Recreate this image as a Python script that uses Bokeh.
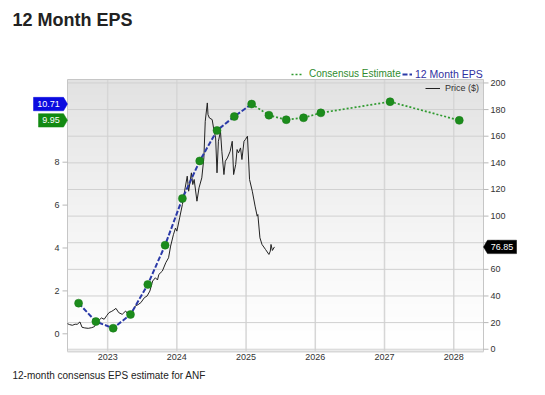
import numpy as np
from bokeh.plotting import figure
from bokeh.models import Range1d, Label, Legend, LegendItem
from bokeh.core.properties import value
from bokeh.embed import file_html
from bokeh.resources import INLINE

# ---------------- data ----------------
eps_dates = [2022.58, 2022.83, 2023.08, 2023.33, 2023.58, 2023.83, 2024.08,
             2024.33, 2024.58, 2024.83, 2025.08]
eps_values = [1.43, 0.57, 0.26, 0.90, 2.30, 4.13, 6.31, 8.06, 9.48, 10.13, 10.71]

est_dates = [2025.33, 2025.58, 2025.83, 2026.08, 2027.08, 2028.08]
est_values = [10.19, 9.98, 10.07, 10.30, 10.82, 9.95]

price_dates = [2022.42, 2022.45, 2022.49, 2022.53, 2022.56, 2022.60, 2022.63, 2022.67,
               2022.72, 2022.77, 2022.81, 2022.84, 2022.88, 2022.91, 2022.95, 2022.99,
               2023.02, 2023.06, 2023.09, 2023.12, 2023.16, 2023.21, 2023.26, 2023.31,
               2023.36, 2023.40, 2023.44, 2023.48, 2023.53, 2023.57, 2023.61, 2023.65,
               2023.69, 2023.72, 2023.74, 2023.79, 2023.84, 2023.88, 2023.91, 2023.95,
               2023.98, 2024.00, 2024.04, 2024.08, 2024.12, 2024.15, 2024.17, 2024.21,
               2024.23, 2024.25, 2024.29, 2024.32, 2024.36, 2024.39, 2024.41, 2024.44,
               2024.45, 2024.47, 2024.51, 2024.53, 2024.56, 2024.58, 2024.60, 2024.63,
               2024.65, 2024.68, 2024.70, 2024.73, 2024.77, 2024.80, 2024.82, 2024.85,
               2024.87, 2024.89, 2024.92, 2024.94, 2024.97, 2024.99, 2025.02, 2025.05,
               2025.09, 2025.13, 2025.16, 2025.17, 2025.20, 2025.23, 2025.28, 2025.33,
               2025.35, 2025.36, 2025.38, 2025.41]
price_values = [19.2, 18.5, 18.0, 18.8, 18.7, 20.5, 16.5, 16.0,
                15.7, 16.2, 17.0, 20.5, 22.0, 23.5, 22.5, 25.5,
                27.5, 28.5, 29.5, 30.7, 27.5, 26.2, 28.7, 25.0,
                28.7, 32.5, 33.5, 35.0, 38.7, 40.0, 43.7, 51.2,
                53.7, 52.0, 56.2, 58.7, 65.0, 68.7, 77.5, 86.0,
                91.0, 88.7, 98.7, 108.7, 121.2, 130.0, 118.7, 132.5,
                123.7, 127.5, 111.2, 121.2, 128.7, 143.7, 171.2, 185.0,
                176.2, 173.7, 172.5, 166.2, 158.7, 132.5, 156.2, 163.7,
                148.7, 131.2, 141.2, 143.7, 148.7, 156.2, 131.2, 138.7,
                150.0, 147.5, 151.2, 142.5, 156.2, 157.5, 160.0, 127.5,
                118.7, 107.5, 100.0, 101.2, 83.7, 78.7, 75.0, 71.2,
                73.7, 78.7, 74.2, 76.85]

year_ticks = [2023, 2024, 2025, 2026, 2027, 2028]
eps_ticks = [0, 2, 4, 6, 8]
price_ticks = [0, 20, 40, 60, 80, 100, 120, 140, 160, 180, 200]

title_text = "12 Month EPS"
footer_text = "12-month consensus EPS estimate for ANF"

# ---------------- style / layout ----------------
FONT = "Liberation Sans"
BLUE_LINE = "#2b3aa8"
GREEN_LINE = "#2f9a2f"
GREEN_DOT = "#1c8c1c"
TXT = "#333333"

W, H = 537, 387
BL, BR, BT, BB = 67, 483, 79, 351          # plot box in canvas pixels

X0, X1 = 2022.42, 2028.43                   # visible data extents of the box
P0, P1 = -1.7, 202.6
E0, E1 = -0.825, 11.855

kx = (BR - BL) / (X1 - X0)
kp = (BB - BT) / (P1 - P0)
ke = (BB - BT) / (E1 - E0)

def px_x(px):      # canvas x pixel -> data x
    return X0 + (px - BL) / kx

p = figure(width=W, height=H,
           x_range=Range1d(X0 - BL / kx, X1 + (W - BR) / kx),
           y_range=Range1d(P0 - (H - BB) / kp, P1 + BT / kp),
           x_axis_location=None, y_axis_location=None,
           output_backend="svg", toolbar_location=None,
           min_border=0)
p.extra_y_ranges = {"eps": Range1d(E0 - (H - BB) / ke, E1 + BT / ke)}
p.grid.visible = False
p.outline_line_color = None
p.background_fill_color = "white"
p.border_fill_color = "white"

# gradient background of the plot box
n = BB - BT
t = np.linspace(0, 1, n)
gray = (255 - 29 * t ** 1.3).astype(np.uint8)
img = np.empty((n, 1), dtype=np.uint32)
view = img.view(dtype=np.uint8).reshape((n, 1, 4))
view[:, 0, 0] = gray
view[:, 0, 1] = gray
view[:, 0, 2] = gray
view[:, 0, 3] = 255
p.image_rgba(image=[img], x=X0, y=P0, dw=X1 - X0, dh=P1 - P0, level="image")

# grid lines
p.segment(x0=year_ticks, y0=[P0] * len(year_ticks), x1=year_ticks, y1=[P1] * len(year_ticks),
          line_color="#d6d6d6", line_width=1.5)
p.segment(x0=[X0] * len(price_ticks), y0=price_ticks, x1=[X1] * len(price_ticks), y1=price_ticks,
          line_color="#d0d0d0", line_width=1)
# box outline
p.quad(left=[X0], right=[X1], bottom=[P0], top=[P1], fill_color=None,
       line_color="#c6c6c6", line_width=1)
p.segment(x0=[X0], y0=[P0], x1=[X1], y1=[P0], line_color="#d8d8d8", line_width=2)

# tick marks
tick = 5 / kx
p.segment(x0=[X1] * len(price_ticks), y0=price_ticks, x1=[X1 + tick] * len(price_ticks),
          y1=price_ticks, line_color="#b8b8b8", line_width=1)
p.segment(x0=[X0 - tick] * len(eps_ticks), y0=eps_ticks, x1=[X0] * len(eps_ticks),
          y1=eps_ticks, y_range_name="eps", line_color="#b8b8b8", line_width=1)

# tick labels
p.text(x=year_ticks, y=[P0] * len(year_ticks), text=[str(v) for v in year_ticks],
       text_font=value(FONT), text_font_size="9px", text_color=TXT,
       text_align="center", text_baseline="middle", y_offset=5.5)
p.text(x=[X1] * len(price_ticks), y=price_ticks, text=[str(v) for v in price_ticks],
       text_font=value(FONT), text_font_size="9px", text_color=TXT,
       text_align="left", text_baseline="middle", x_offset=7)
p.text(x=[X0] * len(eps_ticks), y=eps_ticks, text=[str(v) for v in eps_ticks],
       y_range_name="eps",
       text_font=value(FONT), text_font_size="9px", text_color=TXT,
       text_align="right", text_baseline="middle", x_offset=-8)

# series
price_r = p.line(price_dates, price_values, color="#222222", line_width=1)
eps_r = p.line(eps_dates, eps_values, y_range_name="eps", color=BLUE_LINE,
               line_width=2, line_dash="5 2")
cons_x = [eps_dates[-1]] + est_dates
cons_y = [eps_values[-1]] + est_values
cons_r = p.line(cons_x, cons_y, y_range_name="eps", color=GREEN_LINE,
                line_width=1.7, line_dash="2 2")
p.scatter(eps_dates + est_dates, eps_values + est_values, y_range_name="eps",
          size=8, fill_color=GREEN_DOT, line_color="#177a17", line_width=0.5)

# legends (locations are lower-left corners, pixels from canvas bottom-left)
def make_legend(label, rend, loc, color, gw, standoff, fs):
    leg = Legend(items=[LegendItem(label=label, renderers=[rend])],
                 location=loc, orientation="horizontal",
                 background_fill_alpha=0, border_line_color=None,
                 padding=0, margin=0, spacing=0,
                 glyph_width=gw, glyph_height=12, label_height=12,
                 label_standoff=standoff,
                 label_text_font=FONT, label_text_font_size=fs,
                 label_text_color=color)
    p.add_layout(leg)

make_legend("Consensus Estimate", cons_r, (291, H - 79.7), "#2e8b2e", 12, 6, "10px")
make_legend("12 Month EPS", eps_r, (402, H - 79.7), "#3030a0", 10, 3, "10.5px")
make_legend("Price ($)", price_r, (425, H - 94), TXT, 15, 5, "9px")

# value tags
HALF = 6.7
def tag_left(val, px_left, color, text):
    d = HALF / ke
    xs = [px_x(px_left), px_x(BL - 4), px_x(BL), px_x(BL - 4), px_x(px_left)]
    ys = [val + d, val + d, val, val - d, val - d]
    p.patch(xs, ys, y_range_name="eps", fill_color=color, line_color=color, line_width=0.5)
    p.text(x=[px_x((px_left + BL - 4) / 2)], y=[val], text=[text], y_range_name="eps",
           text_color="white", text_font=value(FONT), text_font_size="9px",
           text_align="center", text_baseline="middle")

tag_left(eps_values[-1], 33, "#0b0be0", f"{eps_values[-1]:.2f}")
tag_left(est_values[-1], 38, "#128a12", f"{est_values[-1]:.2f}")

last_price = price_values[-1]
dp = HALF / kp
p.patch([px_x(BR), px_x(BR + 4), px_x(516), px_x(516), px_x(BR + 4)],
        [last_price, last_price + dp, last_price + dp, last_price - dp, last_price - dp],
        fill_color="black", line_color="black", line_width=0.5)
p.text(x=[px_x((BR + 4 + 516) / 2)], y=[last_price], text=[f"{last_price:.2f}"],
       text_color="white", text_font=value(FONT), text_font_size="9px",
       text_align="center", text_baseline="middle")

# title and footer
p.add_layout(Label(x=12, y=H - 19.5, x_units="screen", y_units="screen",
                   text=title_text, text_font=FONT, text_font_size="18px",
                   text_font_style="bold", text_color="#222222",
                   text_baseline="middle"))
p.add_layout(Label(x=12, y=H - 375, x_units="screen", y_units="screen",
                   text=footer_text, text_font=FONT, text_font_size="10px",
                   text_color="#222222", text_baseline="middle"))

open("out.html", "w").write(file_html(p, INLINE))
